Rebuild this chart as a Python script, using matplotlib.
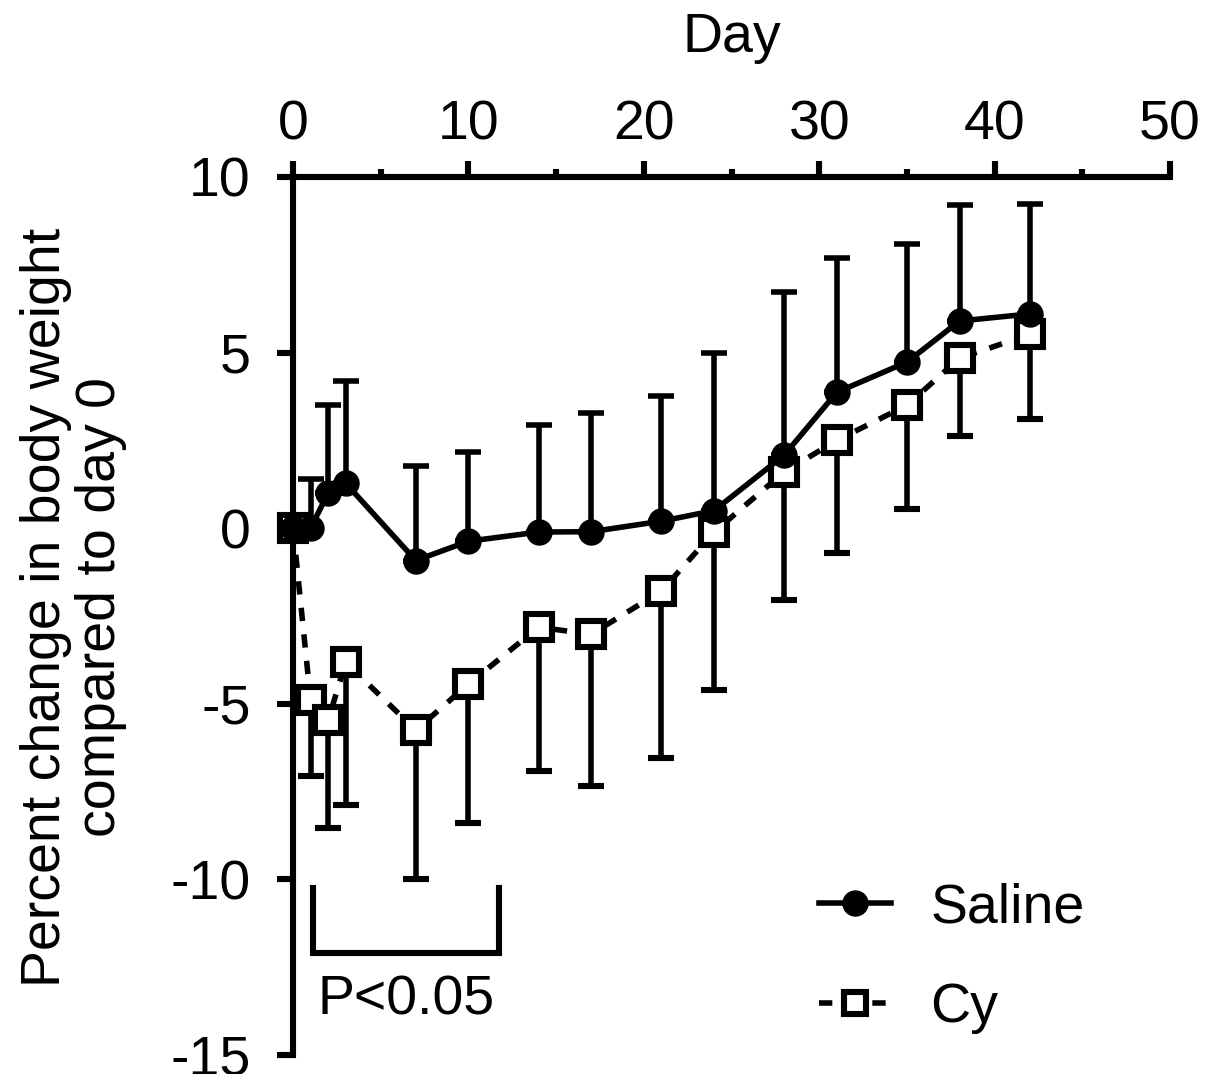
import matplotlib
matplotlib.use("Agg")
import matplotlib.pyplot as plt
from matplotlib.lines import Line2D

plt.rcParams['font.family'] = ['Liberation Sans', 'DejaVu Sans']
plt.rcParams['axes.unicode_minus'] = False

days = [0, 1, 2, 3, 7, 10, 14, 17, 21, 24, 28, 31, 35, 38, 42]
saline = [0, 0, 1.0, 1.28, -0.92, -0.37, -0.11, -0.1, 0.2, 0.5, 2.08, 3.87, 4.73, 5.9, 6.1]
saline_upper = [0, 1.4, 3.5, 4.2, 1.77, 2.16, 2.93, 3.27, 3.76, 5.0, 6.72, 7.7, 8.1, 9.2, 9.23]
cy = [0, -4.9, -5.47, -3.82, -5.75, -4.44, -2.82, -3.02, -1.79, -0.11, 1.6, 2.5, 3.5, 4.84, 5.52]
cy_lower = [0, -7.06, -8.54, -7.88, -10.0, -8.4, -6.92, -7.35, -6.55, -4.6, -2.05, -0.7, 0.54, 2.62, 3.1]

xticks = [0, 10, 20, 30, 40, 50]
yticks = [-15, -10, -5, 0, 5, 10]
bracket_x = [1.15, 11.75]
bracket_y = [-10.25, -12.1]
sig_label = "P<0.05"

fig = plt.figure(figsize=(12.15, 10.74), dpi=100)
ax = fig.add_axes([0.2412, 0.0177, 0.963 - 0.2412, 0.8352 - 0.0177])

lw = 4.0
fs = 40
dash = (0, (2.4, 2.4))

sal_err = [[0] * len(days), [u - v for u, v in zip(saline_upper, saline)]]
cy_err = [[v - l for v, l in zip(cy, cy_lower)], [0] * len(days)]

ax.errorbar(days, cy, yerr=cy_err, color='black', lw=lw, ls=dash,
            marker='s', ms=19, mfc='white', mec='black', mew=4.4,
            elinewidth=lw, capsize=9.5, capthick=lw, clip_on=False, zorder=3)
ax.errorbar(days, saline, yerr=sal_err, color='black', lw=lw, ls='-',
            marker='o', ms=18, mfc='black', mec='black',
            elinewidth=lw, capsize=9.5, capthick=lw, clip_on=False, zorder=4)

# significance bracket
ax.plot([bracket_x[0], bracket_x[0], bracket_x[1], bracket_x[1]],
        [bracket_y[0], bracket_y[1], bracket_y[1], bracket_y[0]],
        color='black', lw=4.4, solid_joinstyle='miter', clip_on=False)
ax.text(sum(bracket_x) / 2, -13.45, sig_label, fontsize=fs, ha='center', va='center')

ax.set_xlim(0, 50)
ax.set_ylim(-15, 10)
ax.set_xticks(xticks)
ax.set_xticks([5, 15, 25, 35, 45], minor=True)
ax.set_yticks(yticks)

ax.xaxis.tick_top()
ax.xaxis.set_label_position('top')
ax.set_xlabel('Day', fontsize=fs, labelpad=34)
ax.set_ylabel('Percent change in body weight\ncompared to day 0', fontsize=fs, labelpad=31,
              linespacing=1.08)
ax.yaxis.label.set_y(0.51)

for s in ['right', 'bottom']:
    ax.spines[s].set_visible(False)
for s in ['left', 'top']:
    ax.spines[s].set_linewidth(4.4)

ax.tick_params(axis='both', which='major', length=11.5, width=4.4, labelsize=fs, direction='out')
ax.tick_params(axis='x', which='major', pad=7)
ax.tick_params(axis='y', which='major', pad=19)
ax.tick_params(axis='x', which='minor', length=6, width=4.4, direction='out')

h_sal = Line2D([], [], color='black', lw=lw, marker='o', ms=18, mfc='black')
h_cy = Line2D([], [], color='black', lw=lw, ls=dash, marker='s', ms=16,
              mfc='white', mec='black', mew=4.4)
leg = ax.legend([h_sal, h_cy], ['Saline', 'Cy'],
                loc='center left', bbox_to_anchor=(0.6, 0.11), frameon=False,
                fontsize=fs, handlelength=1.3, handletextpad=0.7, labelspacing=0.85,
                borderaxespad=0, borderpad=0)

fig.savefig('out.png', dpi=100)
